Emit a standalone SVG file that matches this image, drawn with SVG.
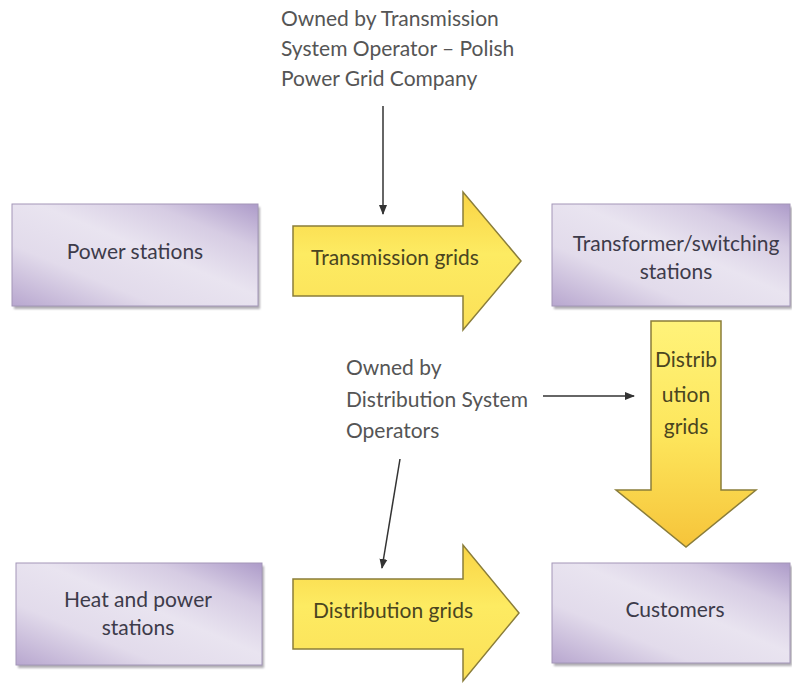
<svg xmlns="http://www.w3.org/2000/svg" width="792" height="684" viewBox="0 0 792 684">
  <defs>
    <!-- lavender box fill: darker corners, light diagonal band -->
    <linearGradient id="boxFill" x1="0" y1="1" x2="1" y2="0">
      <stop offset="0" stop-color="#b8a7cf"/>
      <stop offset="0.3" stop-color="#e2dbeb"/>
      <stop offset="0.55" stop-color="#e9e4f0"/>
      <stop offset="0.78" stop-color="#d6cce3"/>
      <stop offset="1" stop-color="#ad9bc9"/>
    </linearGradient>
    <!-- yellow block arrows -->
    <linearGradient id="arrowH" x1="0" y1="0" x2="0" y2="1">
      <stop offset="0" stop-color="#f9d445"/>
      <stop offset="0.45" stop-color="#fdeb62"/>
      <stop offset="1" stop-color="#fbe058"/>
    </linearGradient>
    <linearGradient id="arrowV" x1="0" y1="0" x2="0" y2="1">
      <stop offset="0" stop-color="#fff37a"/>
      <stop offset="0.5" stop-color="#fde65c"/>
      <stop offset="1" stop-color="#f6c43a"/>
    </linearGradient>
    <filter id="shadow" x="-5%" y="-5%" width="110%" height="115%">
      <feGaussianBlur stdDeviation="1.2"/>
    </filter>
    <marker id="tip" markerWidth="10" markerHeight="10" refX="9" refY="5" orient="auto" markerUnits="userSpaceOnUse">
      <path d="M0,1 L10,5 L0,9 Z" fill="#333"/>
    </marker>
  </defs>
  <style>
    .box { fill: url(#boxFill); stroke: #a396b8; stroke-width: 1; }
    .boxShadow { fill: #6e6a76; opacity: 0.55; filter: url(#shadow); }
    .blockH { fill: url(#arrowH); stroke: #8a7d3a; stroke-width: 1.5; stroke-linejoin: miter; }
    .blockV { fill: url(#arrowV); stroke: #8a7d3a; stroke-width: 1.5; }
    .boxText { font-family: Lato, "Open Sans", sans-serif; font-size: 21px; fill: #3d3b4a; text-anchor: middle; }
    .arrowText { font-family: Lato, "Open Sans", sans-serif; font-size: 21px; fill: #4a4520; text-anchor: middle; }
    .note { font-family: Lato, "Open Sans", sans-serif; font-size: 21px; fill: #555555; }
    .link { stroke: #333; stroke-width: 1.5; fill: none; marker-end: url(#tip); }
  </style>
  <rect width="792" height="684" fill="#ffffff"/>

  <!-- stations and customers -->
  <g id="power-stations">
    <rect class="boxShadow" x="14" y="207" width="246" height="102"/>
    <rect class="box" x="12" y="204" width="246" height="102"/>
    <text class="boxText" x="135" y="259">Power stations</text>
  </g>
  <g id="transformer-stations">
    <rect class="boxShadow" x="554" y="207" width="238" height="102"/>
    <rect class="box" x="552" y="204" width="238" height="102"/>
    <text class="boxText" x="676" y="251">Transformer/switching</text>
    <text class="boxText" x="676" y="279">stations</text>
  </g>
  <g id="heat-power-stations">
    <rect class="boxShadow" x="18" y="566" width="246" height="102"/>
    <rect class="box" x="16" y="563" width="246" height="102"/>
    <text class="boxText" x="138" y="607">Heat and power</text>
    <text class="boxText" x="138" y="635">stations</text>
  </g>
  <g id="customers">
    <rect class="boxShadow" x="554" y="566" width="238" height="100"/>
    <rect class="box" x="552" y="563" width="238" height="100"/>
    <text class="boxText" x="675" y="617">Customers</text>
  </g>

  <!-- grids as block arrows -->
  <g id="transmission-grids">
    <path class="blockH" d="M293,226 H463 V192 L521,261 L463,330 V296 H293 Z"/>
    <text class="arrowText" x="395" y="265">Transmission grids</text>
  </g>
  <g id="distribution-grids-down">
    <path class="blockV" d="M651,321 H721 V490 H756 L686,547 L616,490 H651 Z"/>
    <text class="arrowText" x="686" y="367">Distrib</text>
    <text class="arrowText" x="686" y="402">ution</text>
    <text class="arrowText" x="686" y="434">grids</text>
  </g>
  <g id="distribution-grids">
    <path class="blockH" d="M293,579 H463 V545 L519,613 L463,681 V649 H293 Z"/>
    <text class="arrowText" x="393" y="618">Distribution grids</text>
  </g>

  <!-- ownership notes -->
  <g id="tso-note">
    <text class="note" x="281" y="26">Owned by Transmission</text>
    <text class="note" x="281" y="56">System Operator – Polish</text>
    <text class="note" x="281" y="86">Power Grid Company</text>
  </g>
  <g id="dso-note">
    <text class="note" x="346" y="375">Owned by</text>
    <text class="note" x="346" y="407">Distribution System</text>
    <text class="note" x="346" y="438">Operators</text>
  </g>

  <g id="connectors">
    <line class="link" x1="383" y1="106" x2="383" y2="214"/>
    <line class="link" x1="543" y1="396" x2="634" y2="396"/>
    <line class="link" x1="400" y1="459" x2="382" y2="568"/>
  </g>
</svg>
